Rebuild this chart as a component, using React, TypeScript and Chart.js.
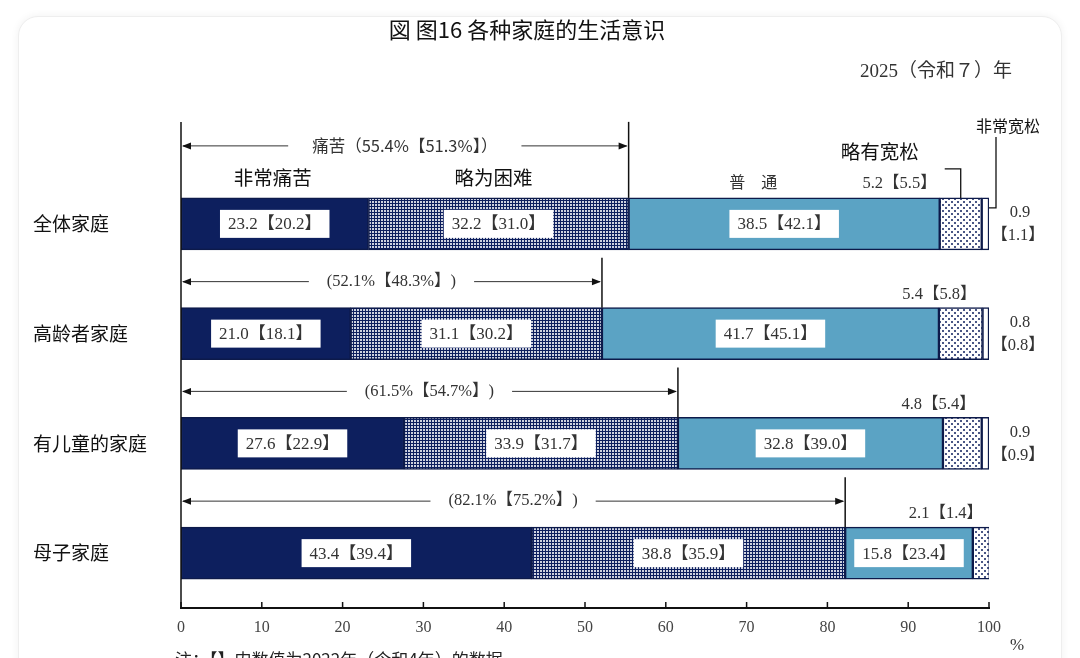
import React, { useEffect, useRef } from "react";
import { Chart, registerables } from "chart.js";
Chart.register(...registerables);

const titleText = "図 图16 各种家庭的生活意识";
const yearText = "2025（令和７）年";
const noteText = "注：【】内数值为2022年（令和4年）的数据";
const categories = ["全体家庭", "高龄者家庭", "有儿童的家庭", "母子家庭"];
const seriesNames = ["非常痛苦", "略为困难", "普　通", "略有宽松", "非常宽松"];
const veryHard = [23.2, 21.0, 27.6, 43.4];
const slightlyHard = [32.2, 31.1, 33.9, 38.8];
const normal = [38.5, 41.7, 32.8, 15.8];
const slightlyEasy = [5.2, 5.4, 4.8, 2.1];
const veryEasy = [0.9, 0.8, 0.9, 0];
const veryHardPrev = [20.2, 18.1, 22.9, 39.4];
const slightlyHardPrev = [31.0, 30.2, 31.7, 35.9];
const normalPrev = [42.1, 45.1, 39.0, 23.4];
const slightlyEasyPrev = [5.5, 5.8, 5.4, 1.4];
const veryEasyPrev = [1.1, 0.8, 0.9, 0];
const hardTotal = [55.4, 52.1, 61.5, 82.1];
const hardTotalPrev = [51.3, 48.3, 54.7, 75.2];
const hardLabel = "痛苦";
const xTickValues = [0, 10, 20, 30, 40, 50, 60, 70, 80, 90, 100];

const NAVY = "#0d1f5e";
const LIGHT = "#5ba3c4";
const SERIF = '"Liberation Serif", "DejaVu Serif", "Noto Sans CJK JP", serif';
const SANS = '"Noto Sans CJK SC", "Noto Sans", sans-serif';

function makePattern(kind: string): CanvasPattern | string {
  const c = document.createElement("canvas");
  const g = c.getContext("2d");
  if (!g) return "#888";
  if (kind === "checker") {
    c.width = 3;
    c.height = 3;
    g.fillStyle = NAVY;
    g.fillRect(0, 0, 3, 3);
    g.fillStyle = "rgba(255,255,255,0.8)";
    g.fillRect(0, 0, 2, 2);
  } else {
    c.width = 6;
    c.height = 6;
    g.fillStyle = "#fff";
    g.fillRect(0, 0, 6, 6);
    g.fillStyle = "rgba(13,31,94,0.75)";
    g.fillRect(0, 0, 2, 2);
    g.fillRect(3, 3, 2, 2);
  }
  const p = g.createPattern(c, "repeat");
  return p || "#888";
}

const f1 = (v: number) => v.toFixed(1);

const annotPlugin = {
  id: "annot",
  afterDatasetsDraw(chart: any) {
    const ctx: CanvasRenderingContext2D = chart.ctx;
    const area = chart.chartArea;
    const xs = chart.scales.x;
    const metas = [0, 1, 2, 3, 4].map((d) => chart.getDatasetMeta(d).data);
    ctx.save();

    // title & year
    ctx.fillStyle = "#111";
    ctx.textAlign = "center";
    ctx.textBaseline = "middle";
    ctx.font = `22px ${SANS}`;
    ctx.fillText(titleText, chart.width / 2 - 13, 30);
    ctx.textAlign = "right";
    ctx.font = `19px ${SERIF}`;
    ctx.fillStyle = "#333";
    ctx.fillText(yearText, area.right + 23, 72);

    const row0Top = metas[0][0].y - metas[0][0].height / 2;
    const arrowY0 = row0Top - 52;

    // left axis line
    ctx.strokeStyle = "#111";
    ctx.lineWidth = 1.5;
    ctx.beginPath();
    ctx.moveTo(area.left, arrowY0 - 24);
    ctx.lineTo(area.left, area.bottom);
    ctx.stroke();

    // x tick marks (upward)
    ctx.lineWidth = 1.5;
    xTickValues.forEach((v) => {
      const px = xs.getPixelForValue(v);
      ctx.beginPath();
      ctx.moveTo(px, area.bottom);
      ctx.lineTo(px, area.bottom - 6);
      ctx.stroke();
    });

    const arrowHead = (x: number, y: number, dir: number) => {
      ctx.beginPath();
      ctx.moveTo(x, y);
      ctx.lineTo(x - dir * 9, y - 3.5);
      ctx.lineTo(x - dir * 9, y + 3.5);
      ctx.closePath();
      ctx.fill();
    };

    categories.forEach((cat, i) => {
      const e0 = metas[0][i];
      const e1 = metas[1][i];
      const e2 = metas[2][i];
      const e3 = metas[3][i];
      const e4 = metas[4][i];
      const cy = e0.y;
      const top = cy - e0.height / 2;

      // category label
      ctx.fillStyle = "#111";
      ctx.textAlign = "left";
      ctx.textBaseline = "middle";
      ctx.font = `19px ${SANS}`;
      ctx.fillText(cat, 33, cy);

      // value boxes
      const vals = [veryHard[i], slightlyHard[i], normal[i]];
      const prevs = [veryHardPrev[i], slightlyHardPrev[i], normalPrev[i]];
      [e0, e1, e2].forEach((el, k) => {
        const cx = (el.x + el.base) / 2;
        const t = `${f1(vals[k])}【${f1(prevs[k])}】`;
        ctx.font = `17px ${SERIF}`;
        const w = ctx.measureText(t).width + 16;
        ctx.fillStyle = "#fff";
        ctx.fillRect(cx - w / 2, cy - 14, w, 28);
        ctx.fillStyle = "#333";
        ctx.textAlign = "center";
        ctx.fillText(t, cx, cy + 1);
      });

      // hardship bracket arrow
      const ay = i === 0 ? arrowY0 : top - 26;
      const endX = e1.x;
      const midX = (area.left + endX) / 2;
      const txt =
        i === 0
          ? `${hardLabel}（${f1(hardTotal[i])}%【${f1(hardTotalPrev[i])}%】）`
          : `(${f1(hardTotal[i])}%【${f1(hardTotalPrev[i])}%】)`;
      ctx.font = i === 0 ? `16.5px ${SANS}` : `16.5px ${SERIF}`;
      const tw = ctx.measureText(txt).width;
      const gap = i === 0 ? 24 : 18;
      ctx.strokeStyle = "#333";
      ctx.fillStyle = "#111";
      ctx.lineWidth = 1;
      ctx.beginPath();
      ctx.moveTo(area.left + 2, ay);
      ctx.lineTo(midX - tw / 2 - gap, ay);
      ctx.moveTo(midX + tw / 2 + gap, ay);
      ctx.lineTo(endX - 2, ay);
      ctx.stroke();
      arrowHead(area.left + 1, ay, -1);
      arrowHead(endX - 1, ay, 1);
      ctx.fillStyle = "#333";
      ctx.textAlign = "center";
      ctx.fillText(txt, midX, ay);
      // vertical divider line
      ctx.strokeStyle = "#111";
      ctx.lineWidth = 1.5;
      ctx.beginPath();
      ctx.moveTo(endX, ay - 24);
      ctx.lineTo(endX, top);
      ctx.stroke();

      // small segment label (slightly easy)
      const sTxt = `${f1(slightlyEasy[i])}【${f1(slightlyEasyPrev[i])}】`;
      ctx.font = `16.5px ${SERIF}`;
      ctx.fillStyle = "#333";
      ctx.textAlign = "right";
      const segMid = (e3.x + e3.base) / 2;
      if (i === 0) {
        const rx = segMid - 24;
        ctx.fillText(sTxt, rx, top - 14);
        ctx.strokeStyle = "#111";
        ctx.lineWidth = 1.3;
        ctx.beginPath();
        ctx.moveTo(rx + 8, top - 29);
        ctx.lineTo(segMid, top - 29);
        ctx.lineTo(segMid, top);
        ctx.stroke();
      } else {
        ctx.fillText(sTxt, Math.min(e3.x, area.right) - 6, top - 13);
      }

      // very easy right labels
      if (veryEasy[i] > 0) {
        const lx = e4.x + 31;
        ctx.textAlign = "center";
        ctx.fillStyle = "#333";
        ctx.fillText(f1(veryEasy[i]), lx, cy - 11);
        ctx.fillText(`【${f1(veryEasyPrev[i])}】`, lx - 2, cy + 12);
      }

      if (i === 0) {
        // header labels
        ctx.fillStyle = "#111";
        ctx.textAlign = "center";
        ctx.font = `19.5px ${SANS}`;
        ctx.fillText(seriesNames[0], (e0.x + e0.base) / 2 - 2, top - 20);
        ctx.fillText(seriesNames[1], (e1.x + e1.base) / 2 - 5, top - 20);
        ctx.font = `16px ${SERIF}`;
        ctx.fillStyle = "#333";
        ctx.fillText(seriesNames[2], (e2.x + e2.base) / 2 - 31, top - 14);
        ctx.font = `19.5px ${SANS}`;
        ctx.fillStyle = "#111";
        ctx.fillText(seriesNames[3], segMid - 81, top - 46);
        ctx.font = `16px ${SANS}`;
        ctx.fillText(seriesNames[4], e4.x + 19, top - 72);
        // leader for very easy
        ctx.strokeStyle = "#111";
        ctx.lineWidth = 1.3;
        ctx.beginPath();
        ctx.moveTo(e4.x + 7, top - 61);
        ctx.lineTo(e4.x + 7, top + 10);
        ctx.lineTo(e4.x, top + 10);
        ctx.stroke();
      }
    });

    // percent sign and note
    ctx.fillStyle = "#333";
    ctx.textAlign = "center";
    ctx.textBaseline = "middle";
    ctx.font = `17px ${SERIF}`;
    ctx.fillText("%", area.right + 28, area.bottom + 38);
    ctx.textAlign = "left";
    ctx.textBaseline = "top";
    ctx.font = `17px ${SANS}`;
    ctx.fillStyle = "#222";
    ctx.fillText(noteText, area.left - 6, area.bottom + 43);
    ctx.restore();
  },
};

export default function App() {
  const ref = useRef<HTMLCanvasElement | null>(null);
  useEffect(() => {
    if (!ref.current) return;
    const checker = makePattern("checker");
    const dots = makePattern("dots");
    const mk = (label: string, data: number[], bg: any) => ({
      label,
      data,
      backgroundColor: bg,
      borderColor: "#0d1a4a",
      borderWidth: 1.5,
      borderSkipped: false,
      barThickness: 52,
    });
    const chart = new Chart(ref.current, {
      type: "bar",
      data: {
        labels: categories,
        datasets: [
          mk(seriesNames[0], veryHard, NAVY),
          mk(seriesNames[1], slightlyHard, checker),
          mk(seriesNames[2], normal, LIGHT),
          mk(seriesNames[3], slightlyEasy, dots),
          mk(seriesNames[4], veryEasy, "#ffffff"),
        ],
      },
      options: {
        indexAxis: "y",
        animation: false,
        responsive: true,
        maintainAspectRatio: false,
        layout: { padding: { left: 181, right: 91, top: 169, bottom: 0 } },
        plugins: {
          legend: { display: false },
          tooltip: { enabled: false },
        },
        scales: {
          x: {
            stacked: true,
            min: 0,
            max: 100,
            afterFit: (s: any) => {
              s.height = 50;
            },
            grid: { display: false, drawTicks: false },
            border: { display: true, color: "#111", width: 2 },
            ticks: {
              stepSize: 10,
              padding: 10,
              color: "#444",
              font: { family: SERIF, size: 16 },
            },
          },
          y: {
            stacked: true,
            display: false,
          },
        },
      },
      plugins: [annotPlugin],
    } as any);
    return () => chart.destroy();
  }, []);
  return (
    <div
      style={{
        position: "fixed",
        left: 0,
        top: 0,
        width: 1080,
        height: 658,
        background: "#ffffff",
        overflow: "hidden",
      }}
    >
      <div
        style={{
          position: "absolute",
          left: 18,
          top: 16,
          width: 1042,
          height: 700,
          borderRadius: 20,
          border: "1px solid #eeeeee",
          boxShadow: "0 0 8px rgba(0,0,0,0.06)",
          background: "#ffffff",
        }}
      />
      <div style={{ position: "absolute", left: 0, top: 0, width: 1080, height: 658 }}>
        <canvas ref={ref} />
      </div>
    </div>
  );
}
